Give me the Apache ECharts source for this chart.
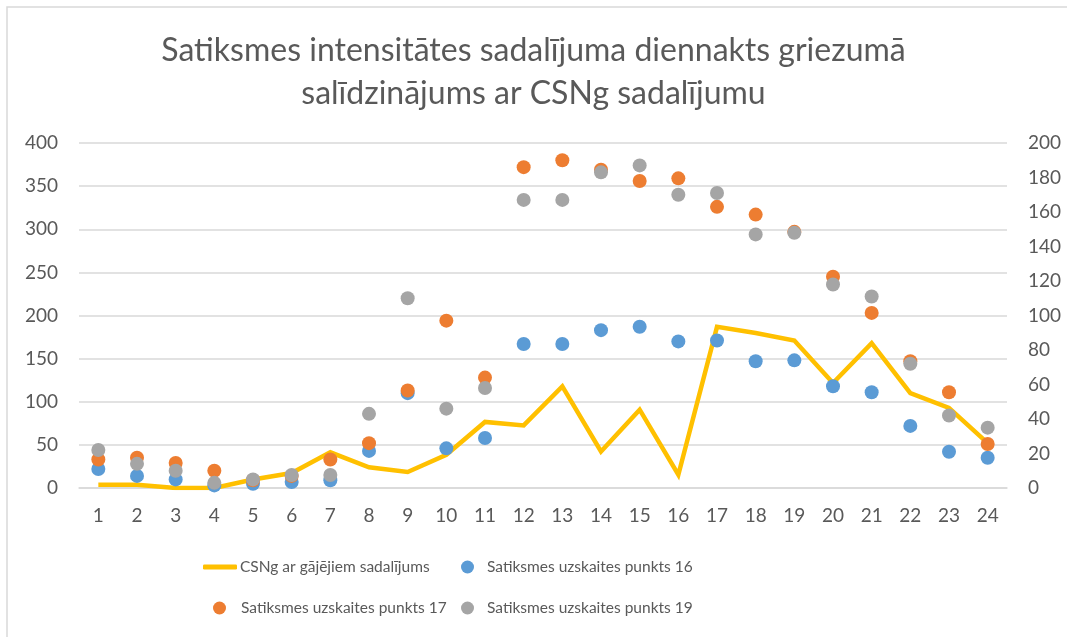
<!DOCTYPE html>
<html>
<head>
<meta charset="utf-8">
<script src="https://cdn.jsdelivr.net/npm/echarts@6/dist/echarts.min.js"></script>
<style>
  html, body { margin: 0; padding: 0; background: #fff; }
  #chart { width: 1067px; height: 637px; }
</style>
</head>
<body>
<div id="chart"></div>
<script>
const hours = Array.from({ length: 24 }, (_, i) => String(i + 1));

// right axis (0-200)
const csng = [
  1.9, 1.9, 0, 0, 4.9, 8.7, 20.7, 12, 9.3, 19.3, 38.3, 36.3,
  58.9, 21.2, 45.4, 7.7, 93.4, 89.9, 85.5, 60.9, 84, 55, 46.4, 26
];

// left axis (0-400)
const point16 = [
  22, 14, 10, 3, 5, 7, 9, 43, 110, 46, 58, 167,
  167, 183, 187, 170, 171, 147, 148, 118, 111, 72, 42, 35
];
const point17 = [
  33, 35, 29, 20, 9, 14, 33, 52, 113, 194, 128, 372,
  380, 369, 356, 359, 326, 317, 297, 245, 203, 147, 111, 51
];
const point19 = [
  44, 28, 20, 6, 10, 15, 15, 86, 220, 92, 116, 334,
  334, 366, 374, 340, 342, 294, 296, 236, 222, 144, 84, 70
];

const names = [
  'CSNg ar gājējiem sadalījums',
  'Satiksmes uzskaites punkts 16',
  'Satiksmes uzskaites punkts 17',
  'Satiksmes uzskaites punkts 19'
];

const fontFamily = 'Lato, "Open Sans", sans-serif';
const textColor = '#595959';

const chart = echarts.init(document.getElementById('chart'));

function legendAt(name, left, top, isLine, gap) {
  return {
    data: [name],
    left: left,
    top: top,
    padding: 0,
    icon: isLine ? 'roundRect' : 'circle',
    itemWidth: isLine ? 34 : 13,
    itemHeight: isLine ? 5 : 13,
    itemGap: 0,
    selectedMode: false,
    textStyle: { color: textColor, fontSize: 15.5, fontFamily: fontFamily, padding: [0, 0, 0, gap] }
  };
}

function scatter(name, data, color) {
  return {
    name: name,
    type: 'scatter',
    yAxisIndex: 0,
    data: data,
    symbolSize: 14,
    itemStyle: { color: color, opacity: 1 },
    z: 3
  };
}

chart.setOption({
  animation: false,
  title: {
    text: 'Satiksmes intensitātes sadalījuma diennakts griezumā\nsalīdzinājums ar CSNg sadalījumu',
    left: 'center',
    top: 24,
    textStyle: {
      color: textColor,
      fontSize: 32,
      fontWeight: 400,
      fontFamily: fontFamily,
      lineHeight: 43
    }
  },
  graphic: [{
    type: 'rect',
    shape: { x: 7, y: 7, width: 1100, height: 700 },
    style: { fill: 'none', stroke: '#d9d9d9', lineWidth: 1.5 },
    silent: true
  }],
  grid: { left: 79, right: 60, top: 143, bottom: 149 },
  legend: [
    legendAt(names[0], 203, 559, true, -2),
    legendAt(names[1], 461, 559, false, 8),
    legendAt(names[2], 213, 600, false, 10),
    legendAt(names[3], 461, 600, false, 8)
  ],
  xAxis: {
    type: 'category',
    data: hours,
    boundaryGap: true,
    axisLine: { show: true, lineStyle: { color: '#d9d9d9', width: 1.5 } },
    axisTick: { show: false },
    axisLabel: { color: textColor, fontSize: 19, fontFamily: fontFamily, margin: 18 }
  },
  yAxis: [
    {
      type: 'value',
      min: 0,
      max: 400,
      interval: 50,
      axisLine: { show: false },
      axisTick: { show: false },
      axisLabel: { color: textColor, fontSize: 19, fontFamily: fontFamily, margin: 21 },
      splitLine: { lineStyle: { color: '#d9d9d9', width: 1.5 } }
    },
    {
      type: 'value',
      min: 0,
      max: 200,
      interval: 20,
      position: 'right',
      axisLine: { show: false },
      axisTick: { show: false },
      axisLabel: { color: textColor, fontSize: 19, fontFamily: fontFamily, margin: 21 },
      splitLine: { show: false }
    }
  ],
  series: [
    {
      name: names[0],
      type: 'line',
      yAxisIndex: 1,
      data: csng,
      symbol: 'none',
      lineStyle: { color: '#FFC000', width: 4.5, join: 'miter' },
      itemStyle: { color: '#FFC000' },
      z: 2
    },
    scatter(names[1], point16, '#5B9BD5'),
    scatter(names[2], point17, '#ED7D31'),
    scatter(names[3], point19, '#A5A5A5')
  ]
});
</script>
</body>
</html>
